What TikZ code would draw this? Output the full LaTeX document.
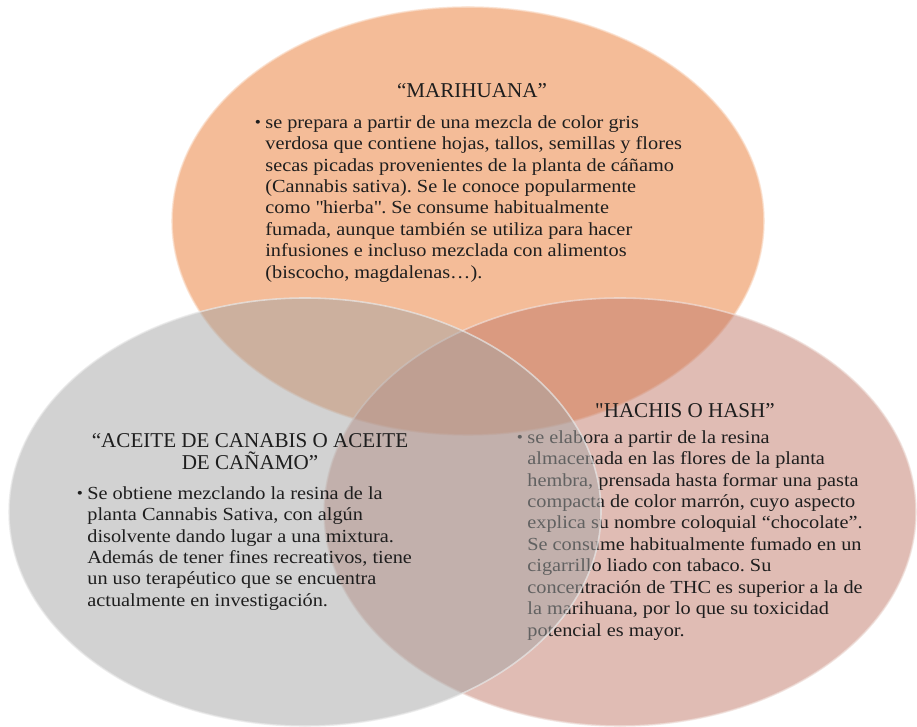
\documentclass[tikz,border=0pt]{standalone}
\usepackage{fontspec}
\setmainfont{Liberation Serif}
\newfontfamily\bodyfont{Liberation Serif}[FakeStretch=1.1]
\usetikzlibrary{shapes.geometric, positioning}
\definecolor{marihuana}{RGB}{233,121,49}
\definecolor{hachis}{RGB}{193,121,105}
\definecolor{aceite}{RGB}{165,165,165}
\definecolor{ink}{RGB}{30,30,30}
\frenchspacing

\newcommand{\bul}{\llap{\raisebox{0.6pt}{\fontsize{9}{9}\selectfont\textbullet}\hspace{2.5pt}}}

\begin{document}
\begin{tikzpicture}[
    circ/.style={ellipse, inner sep=0pt,
                 minimum width=11.84cm, minimum height=8.56cm,
                 fill opacity=0.5, draw opacity=0.7,
                 line width=0.9pt},
    title/.style={align=center, inner sep=0pt, text=ink,
                  font=\fontsize{12}{12.6}\selectfont},
    body/.style={align=left, inner sep=0pt, text=ink,
                 anchor=north west,
                 font=\bodyfont\fontsize{10.5}{12.2}\selectfont},
]
\useasboundingbox (0,0) rectangle (18.34,14.52);

% ==========================================================
% Top circle: marihuana
% ==========================================================
\node[circ, fill=marihuana, draw=marihuana!25!white] (mar) at (9.36, 10.10) {};
\node[title] (mar-t) at (9.44, 12.70) {“MARIHUANA”};
\node[body] (mar-b) at (5.30, 12.22)
    {\bul se prepara a partir de una mezcla de color gris\\
     verdosa que contiene hojas, tallos, semillas y flores\\
     secas picadas provenientes de la planta de cáñamo\\
     (Cannabis sativa). Se le conoce popularmente\\
     como \textquotedbl hierba\textquotedbl. Se consume habitualmente\\
     fumada, aunque también se utiliza para hacer\\
     infusiones e incluso mezclada con alimentos\\
     (biscocho, magdalenas…).};

% ==========================================================
% Right circle: hachis
% ==========================================================
\node[circ, fill=hachis, draw=hachis!25!white] (hash) at (12.40, 4.28) {};
\node[title] (hash-t) at (13.70, 6.30) {\textquotedbl HACHIS O HASH”};
\node[body] (hash-b) at (10.54, 5.92)
    {\bul se elabora a partir de la resina\\
     almacenada en las flores de la planta\\
     hembra, prensada hasta formar una pasta\\
     compacta de color marrón, cuyo aspecto\\
     explica su nombre coloquial “chocolate”.\\
     Se consume habitualmente fumado en un\\
     cigarrillo liado con tabaco. Su\\
     concentración de THC es superior a la de\\
     la marihuana, por lo que su toxicidad\\
     potencial es mayor.};

% ==========================================================
% Left circle: aceite (drawn last, lies on top)
% ==========================================================
\node[circ, fill=aceite, draw=aceite!25!white] (oil) at (6.10, 4.28) {};
\node[title] (oil-t) at (5.00, 5.48)
    {“ACEITE DE CANABIS O ACEITE\\ DE CAÑAMO”};
\node[body] (oil-b) at (1.74, 4.80)
    {\bul Se obtiene mezclando la resina de la\\
     planta Cannabis Sativa, con algún\\
     disolvente dando lugar a una mixtura.\\
     Además de tener fines recreativos, tiene\\
     un uso terapéutico que se encuentra\\
     actualmente en investigación.};

\end{tikzpicture}
\end{document}
